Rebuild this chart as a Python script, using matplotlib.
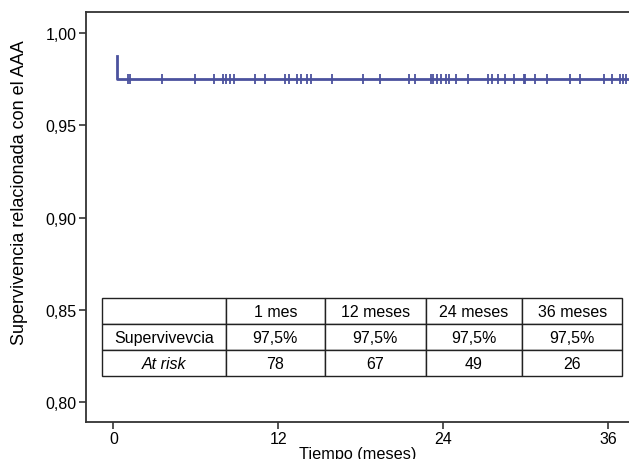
import matplotlib
matplotlib.use("Agg")
import matplotlib.pyplot as plt

plt.rcParams['font.family'] = ['Liberation Sans', 'DejaVu Sans']

# Curva de supervivencia (Kaplan-Meier)
step_time = [0.25, 0.25, 37.5]
step_surv = [0.9875, 0.975, 0.975]

# Pacientes censurados (meses)
censored = [1.05, 1.21, 3.56, 5.94, 7.32, 8.00, 8.15, 8.49, 8.78, 10.33,
            11.01, 12.47, 12.80, 13.34, 13.67, 14.09, 14.38, 15.88, 18.18,
            19.40, 21.51, 21.92, 23.08, 23.27, 23.56, 23.85, 24.17, 24.44,
            24.92, 25.80, 27.27, 27.54, 28.00, 28.47, 29.12, 29.85, 29.95,
            30.68, 31.55, 33.20, 33.96, 35.71, 36.29, 36.83, 37.05, 37.31]

x_ticks = [0, 12, 24, 36]
y_ticks = [0.80, 0.85, 0.90, 0.95, 1.00]
y_labels = ['0,80', '0,85', '0,90', '0,95', '1,00']

# Tabla
col_labels = ['', '1 mes', '12 meses', '24 meses', '36 meses']
row_surv = ['Supervivevcia', '97,5%', '97,5%', '97,5%', '97,5%']
row_risk = ['At risk', '78', '67', '49', '26']

color = '#4b529e'

fig = plt.figure(figsize=(6.29, 4.60), dpi=100)
ax = fig.add_axes([86 / 629, 37.3 / 460, 543 / 629, 409.4 / 460])

ax.plot(step_time, step_surv, color=color, linewidth=2.0)
ax.plot(censored, [0.975] * len(censored), linestyle='none', marker='|',
        markersize=7.5, markeredgewidth=1.3, color=color)

ax.set_xlim(-2.0, 37.5)
ax.set_ylim(0.7895, 1.0113)
ax.set_xticks(x_ticks)
ax.set_yticks(y_ticks)
ax.set_yticklabels(y_labels)
ax.tick_params(labelsize=11.5, length=5, width=1.2, color='#333333', pad=2)
for side in ['left', 'bottom', 'top']:
    ax.spines[side].set_color('#333333')
    ax.spines[side].set_linewidth(1.3)
ax.spines['right'].set_visible(False)

ax.set_xlabel('Tiempo (meses)', fontsize=11.7, labelpad=0)
ax.set_ylabel('Supervivencia relacionada con el AAA', fontsize=13)
ax.yaxis.set_label_coords(-0.107, 0.563)

widths = [123.7, 99, 101, 96, 100.7]
total = sum(widths)
tab = ax.table(cellText=[col_labels, row_surv, row_risk],
               colWidths=[w / total * 0.958 for w in widths],
               cellLoc='center',
               bbox=[0.030, 0.111, 0.958, 0.190])
tab.auto_set_font_size(False)
for (r, c), cell in tab.get_celld().items():
    cell.set_linewidth(1.0)
    cell.set_edgecolor('#222222')
    cell.get_text().set_fontsize(11.5)
    if r == 2 and c == 0:
        cell.get_text().set_fontstyle('italic')

fig.savefig('out.png', dpi=100)
